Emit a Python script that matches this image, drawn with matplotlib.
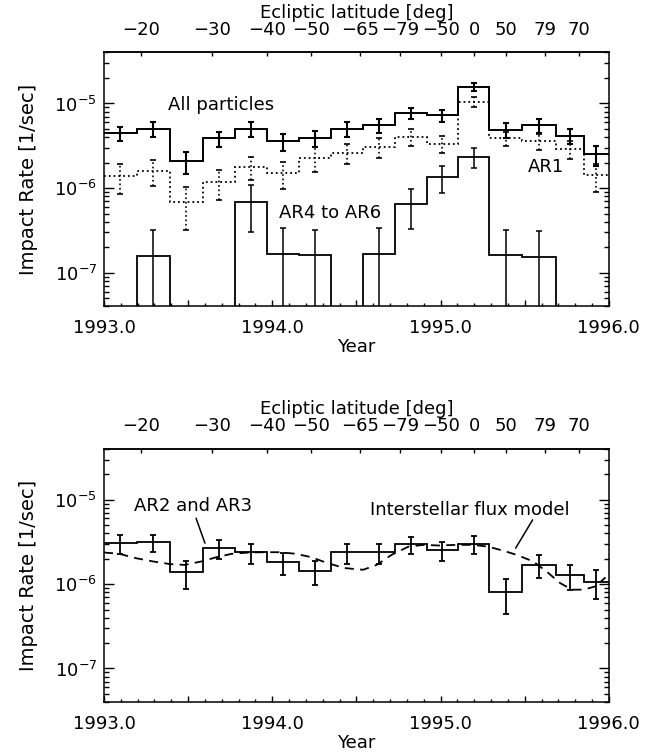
import numpy as np
import matplotlib.pyplot as plt
from matplotlib.ticker import LogLocator, NullFormatter, MultipleLocator, FixedLocator

# bin edges (year), shared by both panels
edges = [1993.0, 1993.194, 1993.392, 1993.586, 1993.78, 1993.967, 1994.159, 1994.347,
         1994.54, 1994.729, 1994.917, 1995.105, 1995.29, 1995.486, 1995.684, 1995.852, 1996.0]

# top panel: all particles
all_rate = [4.43e-6, 5.03e-6, 2.08e-6, 3.87e-6, 5.03e-6, 3.56e-6, 3.87e-6, 5.03e-6,
            5.51e-6, 7.64e-6, 7.24e-6, 1.57e-5, 4.85e-6, 5.51e-6, 4.12e-6, 2.50e-6]
all_err = [0.87e-6, 0.99e-6, 0.62e-6, 0.79e-6, 0.99e-6, 0.78e-6, 0.85e-6, 0.99e-6,
           1.0e-6, 1.15e-6, 1.15e-6, 1.64e-6, 0.95e-6, 1.0e-6, 0.84e-6, 0.67e-6]

# top panel: AR1 (dotted)
ar1_rate = [1.385e-6, 1.59e-6, 6.8e-7, 1.18e-6, 1.77e-6, 1.52e-6, 2.28e-6, 2.62e-6,
            3.08e-6, 4.05e-6, 3.34e-6, 1.04e-5, 3.87e-6, 3.60e-6, 2.87e-6, 1.41e-6]
ar1_err = [0.53e-6, 0.53e-6, 0.36e-6, 0.46e-6, 0.53e-6, 0.54e-6, 0.74e-6, 0.69e-6,
           0.79e-6, 0.89e-6, 0.75e-6, 1.4e-6, 0.76e-6, 0.76e-6, 0.69e-6, 0.51e-6]

# top panel: AR4 to AR6 (zero = no impacts)
ar46_rate = [0, 1.56e-7, 0, 0, 6.9e-7, 1.67e-7, 1.6e-7, 0,
             1.67e-7, 6.57e-7, 1.35e-6, 2.35e-6, 1.6e-7, 1.52e-7, 0, 0]
ar46_err = [0, 1.62e-7, 0, 0, 3.9e-7, 1.72e-7, 1.58e-7, 0,
            1.68e-7, 3.3e-7, 0.48e-6, 0.63e-6, 1.62e-7, 1.57e-7, 0, 0]

# bottom panel: AR2 and AR3
ar23_rate = [3.06e-6, 3.14e-6, 1.375e-6, 2.67e-6, 2.39e-6, 1.82e-6, 1.44e-6, 2.38e-6,
             2.38e-6, 2.98e-6, 2.51e-6, 3.0e-6, 7.98e-7, 1.69e-6, 1.27e-6, 1.06e-6]
ar23_err = [0.77e-6, 0.73e-6, 0.49e-6, 0.69e-6, 0.64e-6, 0.55e-6, 0.46e-6, 0.63e-6,
            0.63e-6, 0.69e-6, 0.64e-6, 0.73e-6, 0.36e-6, 0.5e-6, 0.42e-6, 0.40e-6]

# bottom panel: interstellar flux model
model_year = [1993.00, 1993.09, 1993.19, 1993.29, 1993.39, 1993.48, 1993.58, 1993.67,
              1993.76, 1993.86, 1993.95, 1994.04, 1994.14, 1994.23, 1994.33, 1994.43,
              1994.54, 1994.62, 1994.71, 1994.81, 1994.90, 1994.99, 1995.09, 1995.19,
              1995.28, 1995.37, 1995.45, 1995.55, 1995.63, 1995.71, 1995.78, 1995.85,
              1995.92, 1995.98]
model_rate = [2.37e-6, 2.29e-6, 2.03e-6, 1.86e-6, 1.73e-6, 1.69e-6, 1.86e-6, 2.09e-6,
              2.29e-6, 2.37e-6, 2.39e-6, 2.39e-6, 2.29e-6, 2.09e-6, 1.77e-6, 1.55e-6,
              1.48e-6, 1.69e-6, 2.23e-6, 2.79e-6, 2.92e-6, 2.87e-6, 2.92e-6, 2.92e-6,
              2.79e-6, 2.50e-6, 2.23e-6, 1.86e-6, 1.41e-6, 1.03e-6, 8.6e-7, 8.6e-7,
              9.4e-7, 1.2e-6]

# ecliptic latitude ticks on top axis
lat_pos = [1993.22, 1993.64, 1993.97, 1994.23, 1994.52, 1994.76, 1995.0, 1995.2,
           1995.39, 1995.62, 1995.82]
lat_labels = ['\u221220', '\u221230', '\u221240', '\u221250', '\u221265', '\u221279',
              '\u221250', '0', '50', '79', '70']

plt.rcParams['font.family'] = ['DejaVu Sans']
plt.rcParams['font.size'] = 13
plt.rcParams['axes.linewidth'] = 1.1

edges = np.array(edges)
centers = (edges[:-1] + edges[1:]) / 2
TINY = 1e-12


def setup_axes(ax):
    ax.set_yscale('log')
    ax.set_xlim(1993.0, 1996.0)
    ax.set_ylim(4e-8, 4e-5)
    ax.yaxis.set_major_locator(LogLocator(base=10))
    ax.yaxis.set_minor_locator(LogLocator(base=10, subs=np.arange(2, 10)))
    ax.yaxis.set_minor_formatter(NullFormatter())
    ax.xaxis.set_major_locator(MultipleLocator(0.5))
    ax.xaxis.set_minor_locator(MultipleLocator(0.1))
    ax.xaxis.set_major_formatter(plt.FuncFormatter(
        lambda v, p: '%.1f' % v if abs(v - round(v)) < 1e-6 else ''))
    ax.tick_params(axis='both', which='both', direction='in', top=False, right=True,
                   width=1.0)
    ax.tick_params(axis='y', which='major', length=7, pad=5)
    ax.tick_params(axis='y', which='minor', length=3.5)
    ax.tick_params(axis='x', which='major', length=4, pad=9)
    ax.tick_params(axis='x', which='minor', length=2.5)
    ax.set_xlabel('Year', labelpad=1)
    ax.set_ylabel('Impact Rate [1/sec]', labelpad=12, fontsize=14)
    sec = ax.secondary_xaxis('top')
    sec.xaxis.set_major_locator(FixedLocator(lat_pos))
    sec.set_xticklabels(lat_labels)
    sec.tick_params(direction='in', length=3, pad=10, width=1.0)
    sec.set_xlabel('Ecliptic latitude [deg]', labelpad=2)


def draw_hist(ax, rate, err, ls='-', lw=1.3, elw=1.3):
    rate = np.array(rate, dtype=float)
    err = np.array(err, dtype=float)
    ax.stairs(np.where(rate > 0, rate, TINY), edges, baseline=None,
              color='k', linestyle=ls, linewidth=lw)
    m = rate > 0
    lower = np.minimum(err[m], rate[m] - TINY)
    eb = ax.errorbar(centers[m], rate[m], yerr=[lower, err[m]], fmt='none',
                     ecolor='k', elinewidth=elw, capsize=2.5, capthick=elw)
    if ls != '-':
        eb[2][0].set_linestyle(ls)
    return eb


fig = plt.figure(figsize=(6.54, 7.53), dpi=100)

# top panel
ax1 = fig.add_axes([0.159, 0.593, 0.772, 0.3373])
setup_axes(ax1)
draw_hist(ax1, all_rate, all_err, lw=1.4, elw=1.5)
draw_hist(ax1, ar1_rate, ar1_err, ls=':', lw=1.3, elw=1.2)
draw_hist(ax1, ar46_rate, ar46_err, lw=1.3, elw=1.1)
ax1.text(1993.38, 9.5e-6, 'All particles', va='center', ha='left')
ax1.text(1994.04, 5.1e-7, 'AR4 to AR6', va='center', ha='left')
ax1.text(1995.52, 1.78e-6, 'AR1', va='center', ha='left')

# bottom panel
ax2 = fig.add_axes([0.159, 0.0677, 0.772, 0.336])
setup_axes(ax2)
draw_hist(ax2, ar23_rate, ar23_err, lw=1.3, elw=1.3)
ax2.plot(model_year, model_rate, color='k', linestyle=(0, (5, 3.5)), linewidth=1.3)
ax2.text(1993.18, 8.45e-6, 'AR2 and AR3', va='center', ha='left')
ax2.annotate('', xy=(1993.60, 3.06e-6), xytext=(1993.547, 6.05e-6),
             arrowprops=dict(arrowstyle='-', color='k', lw=1.1, shrinkA=0, shrinkB=0))
ax2.text(1994.58, 7.58e-6, 'Interstellar flux model', va='center', ha='left')
ax2.annotate('', xy=(1995.446, 2.67e-6), xytext=(1995.547, 5.78e-6),
             arrowprops=dict(arrowstyle='-', color='k', lw=1.1, shrinkA=0, shrinkB=0))

fig.savefig('out.png', dpi=100)
